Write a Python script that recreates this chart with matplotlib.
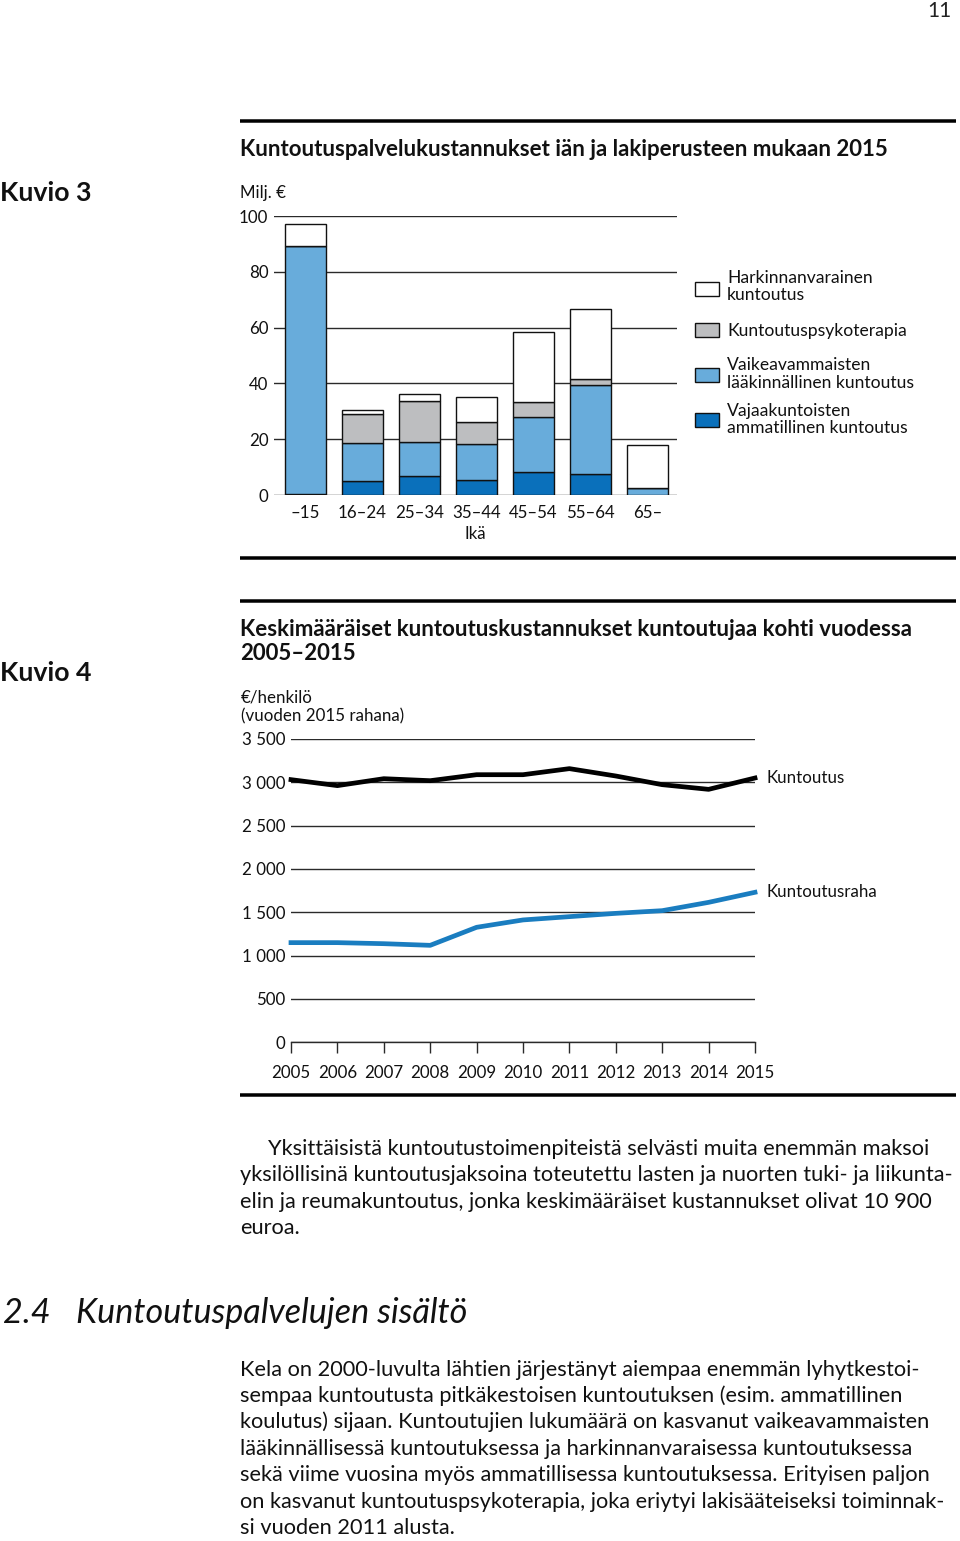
import matplotlib
matplotlib.use("Agg")
import matplotlib.pyplot as plt
from matplotlib.patches import Rectangle
import numpy as np

plt.rcParams['font.family'] = ['Lato', 'DejaVu Sans']

W, H = 960, 1541

# ---------------- data ----------------
ages = ['–15', '16–24', '25–34', '35–44', '45–54', '55–64', '65–']
vajaakuntoiset = [0.2, 4.9, 6.8, 5.3, 8.1, 7.7, 0.0]
vaikeavammaiset = [88.9, 13.9, 12.1, 12.9, 20.0, 31.9, 2.5]
psykoterapia = [0.0, 10.1, 14.9, 8.1, 5.1, 2.1, 0.0]
harkinnanvarainen = [8.2, 1.5, 2.5, 9.0, 25.2, 25.0, 15.5]
bar_ticks = [0, 20, 40, 60, 80, 100]

legend_labels = ['Harkinnanvarainen\nkuntoutus', 'Kuntoutuspsykoterapia',
                 'Vaikeavammaisten\nlääkinnällinen kuntoutus',
                 'Vajaakuntoisten\nammatillinen kuntoutus']

years = [2005, 2006, 2007, 2008, 2009, 2010, 2011, 2012, 2013, 2014, 2015]
kuntoutus = [3031, 2962, 3042, 3019, 3088, 3088, 3158, 3073, 2973, 2919, 3050]
kuntoutusraha = [1150, 1150, 1138, 1119, 1327, 1412, 1450, 1488, 1519, 1615, 1731]
line_ticks = [0, 500, 1000, 1500, 2000, 2500, 3000, 3500]
line_ticklabels = ['0', '500', '1 000', '1 500', '2 000', '2 500', '3 000', '3 500']

C_DARK = '#0a70bb'
C_LIGHT = '#68acdb'
C_GRAY = '#bdbec0'
C_WHITE = '#ffffff'
C_LINEBLUE = '#1a7dc0'
GRID = '#2a2a2a'
INK = '#111111'

fig = plt.figure(figsize=(W / 100, H / 100), dpi=100)
renderer = fig.canvas.get_renderer()


def fx(x):
    return x / W


def fy(y):
    return 1 - y / H


def txt(x, y, s, size, **kw):
    kw.setdefault('va', 'center')
    kw.setdefault('color', INK)
    return fig.text(fx(x), fy(y), s, fontsize=size, **kw)


def width_size(s, size, target_w, **kw):
    t = fig.text(0, 0, s, fontsize=size, **kw)
    w = t.get_window_extent(renderer).width
    t.remove()
    return size * target_w / w


def rule(y, lw=3.5):
    fig.add_artist(plt.Line2D([fx(240), fx(956)], [fy(y), fy(y)], color='black',
                              lw=lw * 72 / 100, solid_capstyle='butt'))


TICK = 12.2

# ---------------- page header ----------------
txt(952, 11, '11', 15, ha='right', color='#222222')
rule(120.5)

title_size = width_size('Kuntoutuspalvelukustannukset iän ja lakiperusteen mukaan 2015', 14,
                        651, weight='bold')
txt(240, 150, 'Kuntoutuspalvelukustannukset iän ja lakiperusteen mukaan 2015', title_size,
    ha='left', weight='bold')
kuvio_size = width_size('Kuvio 3', 18, 92, weight='bold')
txt(0, 193, 'Kuvio 3', kuvio_size, ha='left', weight='bold')
txt(240, 193, 'Milj. €', TICK, ha='left')

# ---------------- bar chart ----------------
axb = fig.add_axes([fx(274), fy(495), (677 - 274) / W, (495 - 216) / H])
x = np.arange(len(ages))
bw = 0.72
bottom = np.zeros(len(ages))
for vals, col in [(vajaakuntoiset, C_DARK), (vaikeavammaiset, C_LIGHT),
                  (psykoterapia, C_GRAY), (harkinnanvarainen, C_WHITE)]:
    v = np.array(vals)
    axb.bar(x, v, bw, bottom=bottom, color=col, edgecolor=INK, linewidth=1.0, zorder=3)
    bottom += v
axb.set_xlim(-0.553, 6.518)
axb.set_ylim(0, 100)
axb.set_yticks(bar_ticks)
axb.set_yticklabels([str(t) for t in bar_ticks])
axb.grid(axis='y', color=GRID, lw=1.0)
axb.set_axisbelow(True)
for s in axb.spines.values():
    s.set_visible(False)
axb.tick_params(axis='y', length=0, pad=4, labelsize=TICK, labelcolor=INK)
axb.set_xticks(x)
axb.set_xticklabels(ages)
axb.tick_params(axis='x', length=0, pad=7, labelsize=TICK, labelcolor=INK)
axb.set_xlabel('Ikä', fontsize=TICK, labelpad=4, color=INK)
axb.patch.set_alpha(0)

# legend
leg_items = [(C_WHITE, [278, 295], 288.5), (C_GRAY, [331], 330),
             (C_LIGHT, [365, 383], 374.5), (C_DARK, [411, 428], 419.5)]
leg_size = width_size('lääkinnällinen kuntoutus', 11.5, 187)
for (col, ys, pc), lab in zip(leg_items, legend_labels):
    fig.add_artist(Rectangle((fx(694.5), fy(pc + 7)), 24 / W, 14 / H, facecolor=col,
                             edgecolor=INK, lw=1.0))
    for yy, line in zip(ys, lab.split('\n')):
        txt(727, yy, line, leg_size, ha='left')

rule(558)
rule(600.5)

# ---------------- line chart ----------------
t4 = 'Keskimääräiset kuntoutuskustannukset kuntoutujaa kohti vuodessa'
txt(240, 630, t4, title_size, ha='left', weight='bold')
txt(240, 654, '2005–2015', title_size, ha='left', weight='bold')
txt(0, 673, 'Kuvio 4', kuvio_size, ha='left', weight='bold')
txt(241, 698, '€/henkilö', TICK, ha='left')
txt(241, 716, '(vuoden 2015 rahana)', TICK, ha='left')

axl = fig.add_axes([fx(291), fy(1042.3), (755 - 291) / W, (1042.3 - 739) / H])
axl.set_xlim(2005, 2015)
axl.set_ylim(0, 3500)
axl.set_yticks(line_ticks)
axl.set_yticklabels(line_ticklabels)
axl.grid(axis='y', color=GRID, lw=1.0)
axl.set_axisbelow(True)
for s in axl.spines.values():
    s.set_visible(False)
axl.tick_params(axis='y', length=0, pad=4, labelsize=TICK, labelcolor=INK)
axl.set_xticks(years)
axl.set_xticklabels([str(y) for y in years])
axl.tick_params(axis='x', direction='out', length=8, width=1.0, color=GRID, pad=8,
                labelsize=TICK, labelcolor=INK)
axl.spines['bottom'].set_visible(True)
axl.spines['bottom'].set_color(GRID)
axl.spines['bottom'].set_linewidth(1.0)
axl.plot(years, kuntoutus, color='black', lw=3.4, clip_on=False, zorder=4)
axl.plot(years, kuntoutusraha, color=C_LINEBLUE, lw=3.4, clip_on=False, zorder=4)
axl.patch.set_alpha(0)
txt(767, 778, 'Kuntoutus', TICK, ha='left')
txt(767, 892, 'Kuntoutusraha', TICK, ha='left')

rule(1094.5)

# ---------------- body text ----------------
p1 = ['Yksittäisistä kuntoutustoimenpiteistä selvästi muita enemmän maksoi',
      'yksilöllisinä kuntoutusjaksoina toteutettu lasten ja nuorten tuki- ja liikunta-',
      'elin ja reumakuntoutus, jonka keskimääräiset kustannukset olivat 10 900',
      'euroa.']
p1_y = [1149, 1175, 1202, 1228]
body_size = width_size(p1[1], 14, 714)
for i, (line, yy) in enumerate(zip(p1, p1_y)):
    txt(268 if i == 0 else 240, yy, line, body_size, ha='left')

head_size = width_size('Kuntoutuspalvelujen sisältö', 22, 390, style='italic')
txt(3, 1313, '2.4', head_size, ha='left', style='italic')
txt(76, 1313, 'Kuntoutuspalvelujen sisältö', head_size, ha='left', style='italic')

p2 = ['Kela on 2000-luvulta lähtien järjestänyt aiempaa enemmän lyhytkestoi-',
      'sempaa kuntoutusta pitkäkestoisen kuntoutuksen (esim. ammatillinen',
      'koulutus) sijaan. Kuntoutujien lukumäärä on kasvanut vaikeavammaisten',
      'lääkinnällisessä kuntoutuksessa ja harkinnanvaraisessa kuntoutuksessa',
      'sekä viime vuosina myös ammatillisessa kuntoutuksessa. Erityisen paljon',
      'on kasvanut kuntoutuspsykoterapia, joka eriytyi lakisääteiseksi toiminnak-',
      'si vuoden 2011 alusta.']
p2_y = [1370, 1396, 1422, 1449, 1475, 1502, 1528]
for line, yy in zip(p2, p2_y):
    txt(240, yy, line, body_size, ha='left')

fig.savefig('out.png', dpi=100)
